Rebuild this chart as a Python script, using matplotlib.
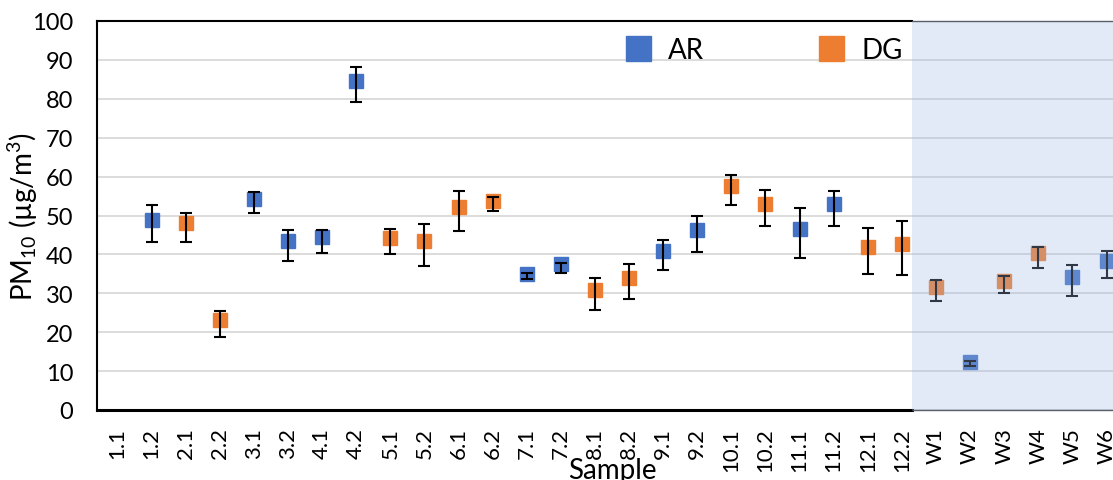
import numpy as np
import matplotlib
matplotlib.use("Agg")
import matplotlib.pyplot as plt
from matplotlib.lines import Line2D

plt.rcParams['font.family'] = ['Lato', 'DejaVu Sans']
plt.rcParams['mathtext.default'] = 'regular'

# sample names along the x axis
samples = ['1.1', '1.2', '2.1', '2.2', '3.1', '3.2', '4.1', '4.2', '5.1', '5.2',
           '6.1', '6.2', '7.1', '7.2', '8.1', '8.2', '9.1', '9.2', '10.1', '10.2',
           '11.1', '11.2', '12.1', '12.2', 'W1', 'W2', 'W3', 'W4', 'W5', 'W6']
nan = np.nan
# PM10 means (ug/m3), nan where the sample belongs to the other group
ar = [nan, 48.9, nan, nan, 54.2, 43.4, 44.4, 84.7, nan, nan,
      nan, nan, 35.0, 37.5, nan, nan, 40.8, 46.3, nan, nan,
      46.5, 52.9, nan, nan, nan, 12.3, nan, nan, 34.3, 38.3]
dg = [nan, nan, 48.0, 23.1, nan, nan, nan, nan, 44.3, 43.5,
      52.3, 53.8, nan, nan, 30.9, 34.0, nan, nan, 57.7, 53.0,
      nan, nan, 41.9, 42.7, 31.6, nan, 33.2, 40.3, nan, nan]
# error bar ends (low / high)
err_lo = [nan, 43.1, 43.3, 18.8, 50.7, 38.4, 40.4, 79.3, 40.0, 37.1,
          46.1, 51.1, 33.8, 35.2, 25.8, 28.5, 35.9, 40.5, 52.8, 47.4,
          39.2, 47.3, 35.0, 34.7, 27.9, 11.2, 30.2, 36.4, 29.2, 33.9]
err_hi = [nan, 52.7, 50.6, 25.4, 56.0, 46.2, 46.4, 88.3, 46.5, 47.9,
          56.3, 54.8, 35.3, 37.9, 34.0, 37.5, 43.7, 49.9, 60.5, 56.6,
          51.9, 56.4, 46.8, 48.7, 33.4, 12.6, 34.4, 41.8, 37.3, 40.8]

c_ar = '#4472C4'
c_dg = '#ED7D31'

x = np.arange(len(samples))
ar = np.array(ar)
dg = np.array(dg)
mean = np.where(np.isnan(ar), dg, ar)
lo = mean - np.array(err_lo)
hi = np.array(err_hi) - mean

fig = plt.figure(figsize=(11.13, 4.81), dpi=100)
ax = fig.add_axes([97/1113, 70/481, 1030/1113, 389/481])

ax.plot(x, ar, 's', color=c_ar, ms=9.5, zorder=3)
ax.plot(x, dg, 's', color=c_dg, ms=9.5, zorder=3)
ax.errorbar(x, mean, yerr=[lo, hi], fmt='none', ecolor='black',
            elinewidth=1.5, capsize=4.5, capthick=1.5, zorder=4)

x0, x1 = -0.6, 29.6
shade_start = 23.3
ax.set_xlim(x0, x1)
ax.set_ylim(0, 100)
ax.set_yticks(np.arange(0, 101, 10))
ax.set_xticks(x)
ax.set_xticklabels(samples, rotation=90)
ax.tick_params(axis='y', length=0, pad=17, labelsize=17)
ax.tick_params(axis='x', length=0, pad=12, labelsize=16)
ax.yaxis.grid(True, color='#d9d9d9', lw=1.3)
ax.set_axisbelow(True)

ax.spines['right'].set_visible(False)
ax.spines['left'].set_linewidth(1.5)
ax.spines['top'].set_linewidth(1.5)
ax.spines['bottom'].set_linewidth(2.2)
ax.spines['top'].set_bounds(x0, shade_start)
ax.spines['bottom'].set_bounds(x0, shade_start)

# shaded winter block drawn over the points
ax.axvspan(shade_start, x1, ymin=0, ymax=1, facecolor='#a0b9e6', alpha=0.3,
           lw=0, zorder=6)
ax.hlines([0, 100], shade_start, x1, color='#5a5f6a', lw=1, zorder=7, clip_on=False)

ax.set_ylabel('PM$_{10}$ (µg/m$^3$)', fontsize=20)
ax.yaxis.set_label_coords(-0.055, 0.5)
ax.set_xlabel('Sample', fontsize=20)
ax.xaxis.set_label_coords(0.5, -0.12)

handles = [Line2D([], [], marker='s', ls='none', color=c_ar, ms=18),
           Line2D([], [], marker='s', ls='none', color=c_dg, ms=18)]
fig.legend(handles, ['AR', 'DG'], ncol=2, frameon=False, fontsize=20,
           loc='upper left', bbox_to_anchor=(625/1113, 1 - 38/481),
           borderpad=0, borderaxespad=0, handlelength=0.9,
           handletextpad=0.65, columnspacing=4.1)

fig.savefig('out.png', dpi=100)
